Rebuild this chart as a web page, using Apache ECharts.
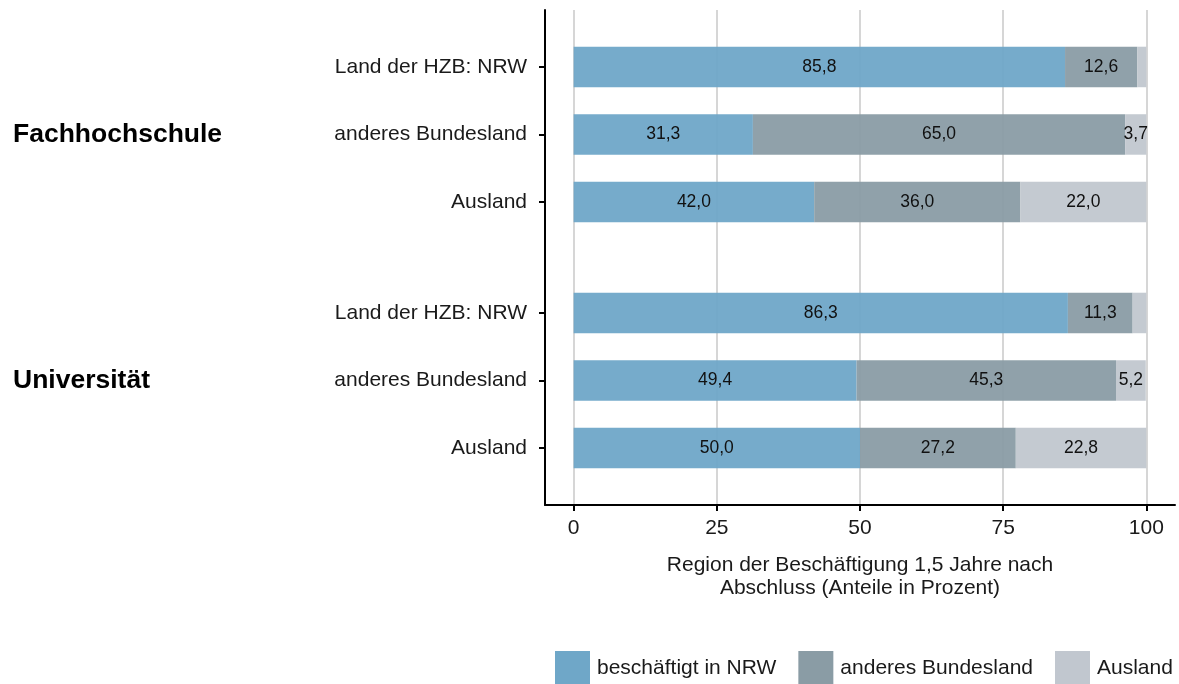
<!DOCTYPE html>
<html><head><meta charset="utf-8">
<script src="https://cdn.jsdelivr.net/npm/echarts@6/dist/echarts.min.js"></script>
<style>html,body{margin:0;padding:0;background:#fff}#c{width:1179px;height:684px}</style>
</head><body><div id="c"></div>
<script>
const groups = ['Fachhochschule', 'Universität'];
const rows = ['Land der HZB: NRW', 'anderes Bundesland', 'Ausland'];
const seriesNames = ['beschäftigt in NRW', 'anderes Bundesland', 'Ausland'];
// values per series, order: FH rows then Uni rows
const nrw   = [85.8, 31.3, 42.0, 86.3, 49.4, 50.0];
const other = [12.6, 65.0, 36.0, 11.3, 45.3, 27.2];
const abroad= [1.6, 3.7, 22.0, 2.4, 5.2, 22.8];
const xTicks = [0, 25, 50, 75, 100];

const colors = ['#6fa7c8', '#8a9ca5', '#c1c7cf'];
const FONT = 'Liberation Sans, Arial, sans-serif';
const groupGap = 1.644;
const rowPos = [];
const rowLabels = [];
groups.forEach((g, gi) => rows.forEach((r, ri) => { rowPos.push(1 + ri + gi * (3 + groupGap - 1)); rowLabels.push(r); }));
const groupPos = groups.map((g, gi) => rowPos[gi * 3 + 1]);

const all = [nrw, other, abroad];
const series = all.map((vals, si) => {
  const data = vals.map((v, i) => {
    let start = 0;
    for (let k = 0; k < si; k++) start += all[k][i];
    return [start, start + v, rowPos[i], v];
  });
  return {
    name: seriesNames[si], type: 'custom', xAxisIndex: 0, yAxisIndex: 0,
    itemStyle: { color: colors[si] },
    encode: { x: [0, 1], y: 2 },
    data: data,
    renderItem: function (params, api) {
      const s = api.value(0), e = api.value(1), y = api.value(2), v = api.value(3);
      const p0 = api.coord([s, y]), p1 = api.coord([e, y]);
      const h = api.size([0, 0.6])[1];
      const children = [{
        type: 'rect',
        shape: { x: p0[0], y: p0[1] - h / 2, width: p1[0] - p0[0], height: h },
        style: { fill: colors[si], opacity: 0.95 }
      }];
      if (v >= 3) {
        children.push({
          type: 'text',
          style: { text: v.toFixed(1).replace('.', ','), x: (p0[0] + p1[0]) / 2, y: p0[1], align: 'center', verticalAlign: 'middle',
            fontSize: 17.5, fontFamily: FONT, fill: '#111' }
        });
      }
      return { type: 'group', children: children };
    },
    z: 3
  };
});

const lookupLabel = (val, pos, labels) => {
  for (let i = 0; i < pos.length; i++) if (Math.abs(pos[i] - val) < 1e-6) return labels[i];
  return '';
};

const chart = echarts.init(document.getElementById('c'));
chart.setOption({
  animation: false,
  textStyle: { fontFamily: FONT },
  grid: { left: 545, right: 4, top: 10, bottom: 179, containLabel: false },
  xAxis: {
    type: 'value', min: -5, max: 105,
    name: 'Region der Beschäftigung 1,5 Jahre nach\nAbschluss (Anteile in Prozent)',
    nameLocation: 'middle', nameGap: 49,
    nameTextStyle: { fontSize: 21, color: '#1a1a1a', lineHeight: 23, verticalAlign: 'top' },
    axisLine: { show: true, onZero: false, lineStyle: { color: '#000', width: 2 } },
    axisTick: { show: true, length: 6, lineStyle: { color: '#000', width: 2 }, customValues: xTicks },
    axisLabel: { fontSize: 21, color: '#1a1a1a', margin: 13, customValues: xTicks },
    splitLine: { show: true, lineStyle: { color: '#d6d6d6', width: 2 } }
  },
  yAxis: [{
    type: 'value', inverse: true, min: 0.156, max: 7.489,
    axisLine: { show: true, onZero: false, lineStyle: { color: '#000', width: 2 } },
    axisTick: { show: true, length: 6, lineStyle: { color: '#000', width: 2 }, customValues: rowPos },
    axisLabel: { fontSize: 21, color: '#1a1a1a', margin: 18, customValues: rowPos,
      formatter: v => lookupLabel(v, rowPos, rowLabels) },
    splitLine: { show: false }
  }, {
    type: 'value', inverse: true, min: 0.156, max: 7.489, position: 'left',
    axisLine: { show: false }, axisTick: { show: false }, splitLine: { show: false },
    axisLabel: { fontSize: 26.5, fontWeight: 'bold', color: '#000', margin: 532, align: 'left', customValues: groupPos,
      formatter: v => lookupLabel(v, groupPos, groups) }
  }],
  legend: {
    left: 555, top: 651, padding: 0, itemWidth: 35, itemHeight: 34, itemGap: 22,
    icon: 'rect',
    textStyle: { fontSize: 21, color: '#1a1a1a', padding: [0, 0, 0, 2] },
    data: seriesNames
  },
  series: series
});
</script></body></html>
